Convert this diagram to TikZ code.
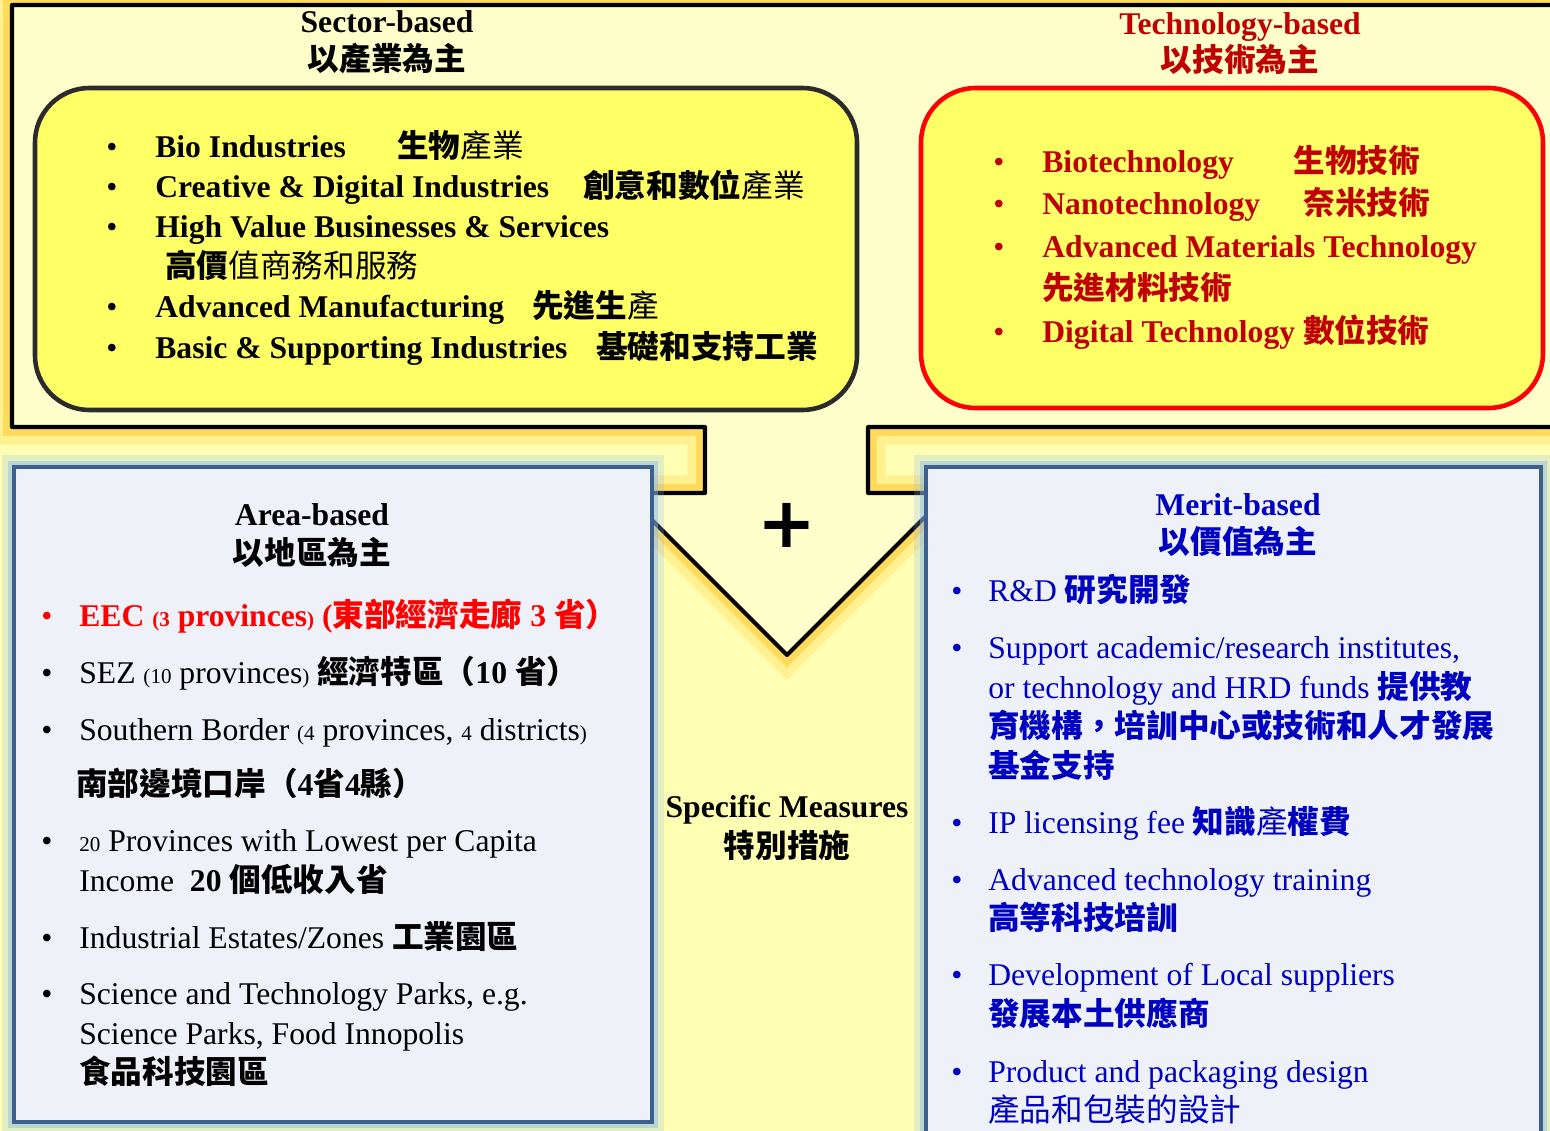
\documentclass[tikz,border=0pt]{standalone}
\usepackage{fontspec}
\setmainfont{Liberation Serif}
\newfontfamily\cjk{Noto Sans CJK TC}
\newfontfamily\symb{DejaVu Sans Bold}
\usetikzlibrary{positioning}

\definecolor{funnelyellow}{HTML}{FFFFCC}
\definecolor{backyellow}{HTML}{FFFFB3}
\definecolor{boxyellow}{HTML}{FFFF66}
\definecolor{glowgold}{HTML}{FFC629}
\definecolor{panelblue}{HTML}{3C5F8E}
\definecolor{panelfill}{HTML}{EEF2F8}
\definecolor{glowblue}{HTML}{8DB8E8}
\definecolor{techred}{HTML}{C00000}
\definecolor{eecred}{HTML}{FF0000}
\definecolor{meritblue}{HTML}{0000C0}
\definecolor{sectorgray}{HTML}{2B2B2B}

\newcommand{\zh}[1]{{\cjk\bfseries #1}}
\newcommand{\zr}[1]{{\cjk #1}}
\newcommand{\sm}[1]{{\fontsize{12}{12}\selectfont #1}}

\tikzset{
  txt/.style={font=\fontsize{18}{22}\selectfont, inner sep=0pt, anchor=base west},
  head/.style={font=\fontsize{18}{22}\selectfont\bfseries, inner sep=0pt, anchor=base},
  dot/.style={font=\fontsize{18}{22}\selectfont, inner sep=0pt, anchor=base},
  panel/.style={fill=panelfill, draw=panelblue, line width=2.3pt,
    preaction={draw=glowblue, line width=14pt, opacity=.25},
    preaction={draw=glowblue, line width=7pt, opacity=.45}},
  listbox/.style={fill=boxyellow, line width=2.6pt, rounded corners=31pt}
}

\begin{document}
\begin{tikzpicture}[x=0.02cm,y=-0.02cm]
  \useasboundingbox (0,0) rectangle (1550,1131);
  \fill[backyellow] (0,0) rectangle (1550,1131);

  % funnel outline
  \path[fill=funnelyellow, draw=black, line width=2.3pt, line join=round,
    preaction={draw=glowgold, line width=20pt, opacity=.25},
    preaction={draw=glowgold, line width=10pt, opacity=.5}]
    (12,5) -- (1590,5) -- (1590,427) -- (868,427) -- (868,493) -- (945,493)
    -- (945,497) -- (787,655) -- (630,498) -- (630,493) -- (705,493)
    -- (705,427) -- (12,427) -- cycle;

  % lower panels
  \path[panel] (14,467) rectangle (652,1122);
  \path[panel] (926,467) rectangle (1541,1170);

  % upper boxes
  \path[listbox, draw=sectorgray] (35,88) rectangle (857,410);
  \path[listbox, draw=red] (921,88) rectangle (1543,408);

  % sector-based
  \node[head] (sechead) at (387,33) {Sector-based};
  \node[head] (seczh) at (387,71) {\zr{以產業為主}};
  \foreach \y [count=\i] in {158,198,238,318,358}
    \node[dot] (secdot\i) at (112,\y) {•};
  \node[txt] (sec1) at (155,158) {\textbf{Bio Industries}};
  \node[txt] (sec1zh) at (397,158) {\zh{生物}\zr{產業}};
  \node[txt] (sec2) at (155,198) {\textbf{Creative \& Digital Industries}};
  \node[txt] (sec2zh) at (583,198) {\zh{創意和數位}\zr{產業}};
  \node[txt] (sec3) at (155,238) {\textbf{High Value Businesses \& Services}};
  \node[txt] (sec3zh) at (165,278) {\zh{高價}\zr{值商務和服務}};
  \node[txt] (sec4) at (155,318) {\textbf{Advanced Manufacturing}};
  \node[txt] (sec4zh) at (532,318) {\zh{先進生}\zr{產}};
  \node[txt] (sec5) at (155,358) {\textbf{Basic \& Supporting Industries}};
  \node[txt] (sec5zh) at (596,358) {\zh{基礎和支持工業}};

  % technology-based
  \node[head, techred] (techhead) at (1240,35) {Technology-based};
  \node[head, techred] (techzh) at (1240,72) {\zh{以技術為主}};
  \foreach \y [count=\i] in {173,215,258,343}
    \node[dot, techred] (techdot\i) at (999,\y) {•};
  \node[txt, techred] (tech1) at (1042,173) {\textbf{Biotechnology}};
  \node[txt, techred] (tech1zh) at (1293,173) {\zh{生物技術}};
  \node[txt, techred] (tech2) at (1042,215) {\textbf{Nanotechnology}};
  \node[txt, techred] (tech2zh) at (1303,215) {\zh{奈米技術}};
  \node[txt, techred] (tech3) at (1042,258) {\textbf{Advanced Materials Technology}};
  \node[txt, techred] (tech3zh) at (1042,300) {\zh{先進材料技術}};
  \node[txt, techred] (tech4) at (1042,343) {\textbf{Digital Technology} \zh{數位技術}};

  % area-based
  \node[head] (areahead) at (312,525) {Area-based};
  \node[head] (areazh) at (312,564) {\zh{以地區為主}};
  \node[dot, eecred] (areadot1) at (47,626) {•};
  \foreach \y [count=\i from 2] in {683,740,851,948,1004}
    \node[dot] (areadot\i) at (47,\y) {•};
  \node[txt, eecred] (area1) at (79,626)
    {\textbf{EEC \sm{(3} provinces\sm{)} (}\zh{東部經濟走廊}\textbf{ 3 }\zh{省）}};
  \node[txt] (area2) at (79,683)
    {SEZ \sm{(10} provinces\sm{)} \zh{經濟特區（}\textbf{10 }\zh{省）}};
  \node[txt] (area3) at (79,740)
    {Southern Border \sm{(4} provinces, \sm{4} districts\sm{)}};
  \node[txt] (area3zh) at (76,795)
    {\zh{南部邊境口岸（}\textbf{4}\zh{省}\textbf{4}\zh{縣）}};
  \node[txt] (area4) at (79,851) {\sm{20} Provinces with Lowest per Capita};
  \node[txt] (area4b) at (79,891) {Income\ \ \textbf{20 }\zh{個低收入省}};
  \node[txt] (area5) at (79,948) {Industrial Estates/Zones \zh{工業園區}};
  \node[txt] (area6) at (79,1004) {Science and Technology Parks, e.g.};
  \node[txt] (area6b) at (79,1044) {Science Parks, Food Innopolis};
  \node[txt] (area6zh) at (79,1083) {\zh{食品科技園區}};

  % merit-based
  \node[head, meritblue] (merithead) at (1238,515) {Merit-based};
  \node[head, meritblue] (meritzh) at (1238,553) {\zr{以價值為主}};
  \foreach \y [count=\i] in {601,658,833,890,985,1082}
    \node[dot, meritblue] (meritdot\i) at (957,\y) {•};
  \node[txt, meritblue] (merit1) at (988,601) {R\&D \zh{研究開發}};
  \node[txt, meritblue] (merit2) at (988,658) {Support academic/research institutes,};
  \node[txt, meritblue] (merit2b) at (988,698) {or technology and HRD funds \zh{提供教}};
  \node[txt, meritblue] (merit2c) at (988,737) {\zh{育機構，培訓中心或技術和人才發展}};
  \node[txt, meritblue] (merit2d) at (988,777) {\zh{基金支持}};
  \node[txt, meritblue] (merit3) at (988,833) {IP licensing fee \zh{知識}\zr{產}\zh{權費}};
  \node[txt, meritblue] (merit4) at (988,890) {Advanced technology training};
  \node[txt, meritblue] (merit4zh) at (988,929) {\zh{高等科技培訓}};
  \node[txt, meritblue] (merit5) at (988,985) {Development of Local suppliers};
  \node[txt, meritblue] (merit5zh) at (988,1025) {\zh{發展本土供應商}};
  \node[txt, meritblue] (merit6) at (988,1082) {Product and packaging design};
  \node[txt, meritblue] (merit6zh) at (988,1121) {\zr{產品和包裝的設計}};

  % centre
  \node[font=\symb\fontsize{40}{40}\selectfont, inner sep=0pt] (plus) at (787,525) {+};
  \node[head] (spechead) at (787,817) {Specific Measures};
  \node[head] (speczh) at (787,857) {\zh{特別措施}};
\end{tikzpicture}
\end{document}
